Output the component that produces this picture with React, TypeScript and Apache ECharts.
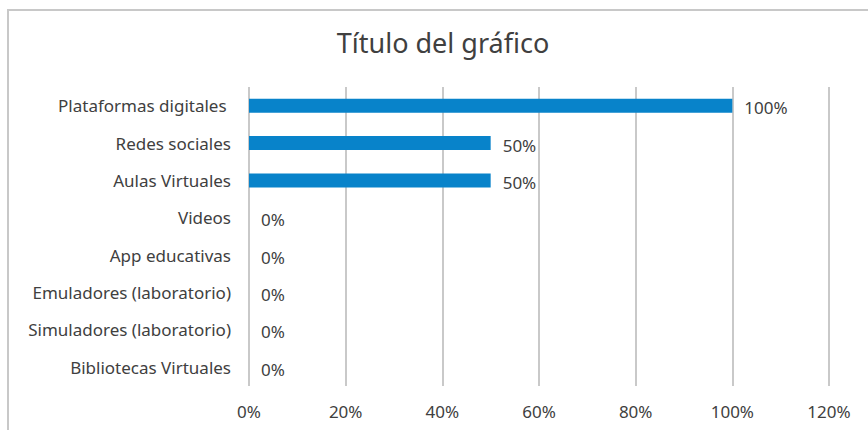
import React, { useEffect, useRef } from "react";
import * as echarts from "echarts";

const categories = [
  "Plataformas digitales ",
  "Redes sociales",
  "Aulas Virtuales",
  "Videos",
  "App educativas",
  "Emuladores (laboratorio)",
  "Simuladores (laboratorio)",
  "Bibliotecas Virtuales",
];
const values = [100, 50, 50, 0, 0, 0, 0, 0];
const titleText = "Título del gráfico";

const FONT = "'Noto Sans', sans-serif";
const TEXT = "#404040";
const GRID = "#c9c9c9";

export default function App() {
  const ref = useRef<HTMLDivElement>(null);
  useEffect(() => {
    if (!ref.current) return;
    const chart = echarts.init(ref.current, null, { renderer: "svg" });
    chart.setOption({
      animation: false,
      backgroundColor: "#ffffff",
      title: {
        text: titleText,
        left: 438,
        textAlign: "center",
        top: 24,
        textStyle: { fontFamily: FONT, fontSize: 27, fontWeight: "normal", color: TEXT },
      },
      graphic: [
        {
          type: "rect",
          shape: { x: 8, y: 10, width: 900, height: 460 },
          style: { fill: "none", stroke: "#c8c8c8", lineWidth: 2 },
          silent: true,
        },
      ],
      grid: { left: 249, right: 39, top: 87, bottom: 44 },
      xAxis: {
        type: "value",
        min: 0,
        max: 120,
        interval: 20,
        axisLine: { show: false },
        axisTick: { show: false },
        splitLine: { show: true, lineStyle: { color: GRID, width: 2 } },
        axisLabel: {
          formatter: "{value}%",
          fontFamily: FONT,
          fontSize: 17,
          color: TEXT,
          margin: 17,
        },
      },
      yAxis: {
        type: "category",
        data: categories,
        inverse: true,
        axisLine: { show: false },
        axisTick: { show: false },
        axisLabel: { fontFamily: FONT, fontSize: 17, color: TEXT, margin: 18 },
      },
      series: [
        {
          type: "bar",
          data: values,
          barWidth: 14,
          itemStyle: { color: "#0883ca" },
          label: {
            show: true,
            position: "right",
            distance: 12,
            formatter: "{c}%",
            fontFamily: FONT,
            fontSize: 17,
            color: TEXT,
            offset: [0, 2],
          },
        },
      ],
    });
    return () => chart.dispose();
  }, []);
  return (
    <div
      ref={ref}
      style={{ position: "absolute", left: 0, top: 0, width: 868, height: 430 }}
    />
  );
}
